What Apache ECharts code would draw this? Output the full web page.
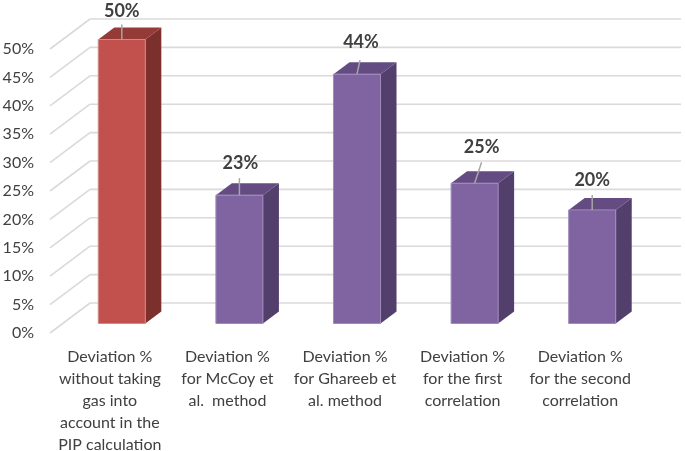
<!DOCTYPE html>
<html>
<head>
<meta charset="utf-8">
<style>html,body{margin:0;padding:0;background:#fff}#c{width:685px;height:451px}</style>
<script src="https://cdn.jsdelivr.net/npm/echarts@6/dist/echarts.min.js"></script>
</head>
<body>
<div id="c"></div>
<script>
var categories = [
  'Deviation %\nwithout taking\ngas into\naccount in the\nPIP calculation',
  'Deviation %\nfor McCoy et\nal.  method',
  'Deviation %\nfor Ghareeb et\nal. method',
  'Deviation %\nfor the first\ncorrelation',
  'Deviation %\nfor the second\ncorrelation'
];
var deviation = [50, 22.6, 43.9, 24.7, 20];
var valueLabels = ['50%', '23%', '44%', '25%', '20%'];
var tickValues = [0, 5, 10, 15, 20, 25, 30, 35, 40, 45, 50];

// 3D projection offsets (px)
var wallDX = 40, wallDY = -30;     // front plane -> back wall
var barDX = 13, barDY = -9.5;      // front plane -> bar front face
var depthDX = 16, depthDY = -12;   // bar depth
// leader line (relative to bar front top centre): start dx, end dx, end dy; label offset
var leaderShift = [[0, 0, -15, 0, -28], [0, 0, -17, 1, -32], [0, 3, -14, 4, -32], [0, 7, -21, 7, -36], [0, 0, -15, 0, -30]];

var palette = [
  {front: '#C2504D', side: '#7B302E', top: '#943B38', edge: '#D08A88'},
  {front: '#8064A2', side: '#533F6C', top: '#644C82', edge: '#A08CBC'}
];

var chart = echarts.init(document.getElementById('c'), null, {renderer: 'canvas'});

function renderWall(p, api) {
  var y = api.coord([0, api.value(0)])[1];
  var left = 50, right = 638;
  var style = {stroke: '#DADADA', lineWidth: 1.6, fill: null};
  return {type: 'group', silent: true, children: [
    {type: 'line', shape: {x1: left, y1: y, x2: left + wallDX, y2: y + wallDY}, style: style},
    {type: 'line', shape: {x1: left + wallDX, y1: y + wallDY, x2: right + wallDX + 3, y2: y + wallDY}, style: style}
  ]};
}

function renderBar(params, api) {
  var i = api.value(0);
  var base = api.coord([i, 0]);
  var topP = api.coord([i, api.value(1)]);
  var w = api.size([1, 0])[0] * 0.4;
  var x0 = base[0] - w / 2 + barDX, x1 = x0 + w;
  var yb = base[1] + barDY, yt = topP[1] + barDY;
  var c = palette[i === 0 ? 0 : 1];
  var s = leaderShift[i];
  var cx = x0 + w / 2;
  return {type: 'group', children: [
    {type: 'polygon', shape: {points: [[x1, yt], [x1 + depthDX, yt + depthDY], [x1 + depthDX, yb + depthDY], [x1, yb]]}, style: {fill: c.side}},
    {type: 'polygon', shape: {points: [[x0, yt], [x0 + depthDX, yt + depthDY], [x1 + depthDX, yt + depthDY], [x1, yt]]}, style: {fill: c.top}},
    {type: 'rect', shape: {x: x0, y: yt, width: w, height: yb - yt}, style: {fill: c.front, stroke: c.edge, lineWidth: 1}},
    {type: 'line', shape: {x1: cx + s[0], y1: yt, x2: cx + s[1], y2: yt + s[2]}, style: {stroke: '#A6A6A6', lineWidth: 1.5}},
    {type: 'text', x: cx + s[3], y: yt + s[4], style: {text: valueLabels[i], fill: '#404040', font: 'bold 18px Lato', align: 'center', verticalAlign: 'middle'}}
  ]};
}

chart.setOption({
  animation: false,
  backgroundColor: '#ffffff',
  grid: {left: 50, right: 47, top: 49, bottom: 118, containLabel: false, outerBoundsMode: 'none'},
  xAxis: {
    type: 'category',
    data: categories,
    axisLine: {show: false},
    axisTick: {show: false},
    axisLabel: {interval: 0, color: '#404040', fontFamily: 'Lato', fontSize: 16, lineHeight: 22, margin: 13, padding: [0, 0, 0, 2]}
  },
  yAxis: {
    type: 'value',
    min: 0,
    max: 50,
    interval: 5,
    axisLine: {show: false},
    axisTick: {show: false},
    splitLine: {show: false},
    axisLabel: {color: '#404040', fontFamily: 'Lato', fontSize: 16, margin: 16, padding: [3, 0, 0, 0], formatter: '{value}%'}
  },
  series: [
    {type: 'custom', renderItem: renderWall, data: tickValues.map(function (t) { return [t]; }), encode: {y: 0}, clip: false, z: 1},
    {type: 'custom', renderItem: renderBar, data: deviation.map(function (v, i) { return [i, v]; }), encode: {x: 0, y: 1}, clip: false, z: 2}
  ]
});
</script>
</body>
</html>
